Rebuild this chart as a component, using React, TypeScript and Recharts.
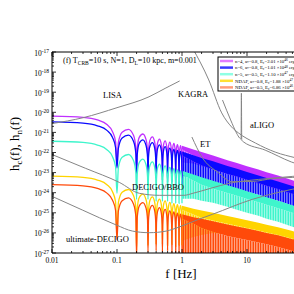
import React from "react"
import { ComposedChart, Line, Area, XAxis, YAxis } from "recharts"

const SERIF = "'Liberation Serif', 'DejaVu Serif', serif"

// frequencies (Hz) of the points read along the resolved lobes (0.01 - 1 Hz)
const lobeFreq = [
  0.01, 0.03, 0.05, 0.07, 0.085, 0.095, 0.1,
  0.105, 0.12, 0.15, 0.18, 0.195, 0.2,
  0.205, 0.22, 0.25, 0.28, 0.295, 0.3,
  0.305, 0.32, 0.35, 0.38, 0.395, 0.4,
  0.405, 0.42, 0.45, 0.48, 0.495, 0.5,
  0.505, 0.52, 0.55, 0.58, 0.595, 0.6,
  0.605, 0.62, 0.65, 0.68, 0.695, 0.7,
  0.705, 0.72, 0.75, 0.78, 0.795, 0.8,
  0.805, 0.82, 0.85, 0.88, 0.895, 0.9,
  0.905, 0.92, 0.95, 0.98, 0.995, 1.0,
]

// log10 h_c at lobeFreq
const magentaLog = [
  -20.19, -20.25, -20.38, -20.61, -20.95, -21.46, -22.48,
  -21.5, -20.99, -20.85, -21.16, -21.77, -22.78,
  -21.8, -21.25, -21.08, -21.36, -21.95, -22.88,
  -21.97, -21.41, -21.22, -21.49, -22.08, -22.98,
  -22.09, -21.53, -21.33, -21.59, -22.18, -23.08,
  -22.19, -21.62, -21.42, -21.67, -22.26, -23.18,
  -22.27, -21.7, -21.49, -21.74, -22.33, -23.18,
  -22.33, -21.77, -21.55, -21.8, -22.38, -23.28,
  -22.39, -21.82, -21.61, -21.85, -22.44, -23.28,
  -22.44, -21.87, -21.66, -21.9, -22.48, -23.28,
]
const blueLog = [
  -20.48, -20.54, -20.67, -20.9, -21.24, -21.75, -22.77,
  -21.79, -21.28, -21.14, -21.45, -22.06, -23.07,
  -22.09, -21.54, -21.37, -21.65, -22.24, -23.17,
  -22.26, -21.7, -21.51, -21.78, -22.37, -23.27,
  -22.38, -21.82, -21.62, -21.88, -22.47, -23.37,
  -22.48, -21.91, -21.71, -21.96, -22.55, -23.47,
  -22.56, -21.99, -21.78, -22.03, -22.62, -23.47,
  -22.62, -22.06, -21.84, -22.09, -22.67, -23.57,
  -22.68, -22.11, -21.9, -22.14, -22.73, -23.57,
  -22.73, -22.16, -21.95, -22.19, -22.77, -23.57,
]
const cyanLog = [
  -21.44, -21.5, -21.63, -21.86, -22.2, -22.71, -24.03,
  -22.75, -22.24, -22.1, -22.41, -23.02, -24.33,
  -23.05, -22.5, -22.33, -22.61, -23.2, -24.33,
  -23.22, -22.66, -22.47, -22.74, -23.33, -24.43,
  -23.34, -22.78, -22.58, -22.84, -23.43, -24.43,
  -23.44, -22.87, -22.67, -22.92, -23.51, -24.43,
  -23.52, -22.95, -22.74, -22.99, -23.58, -24.53,
  -23.58, -23.02, -22.8, -23.05, -23.63, -24.53,
  -23.64, -23.07, -22.86, -23.1, -23.69, -24.53,
  -23.69, -23.12, -22.91, -23.15, -23.73, -24.53,
]
const yellowLog = [
  -23.18, -23.24, -23.37, -23.6, -23.94, -24.45, -26.21,
  -24.49, -23.98, -23.84, -24.15, -24.76, -26.87,
  -24.79, -24.24, -24.07, -24.35, -24.94, -26.62,
  -24.96, -24.4, -24.21, -24.48, -25.07, -26.57,
  -25.08, -24.52, -24.32, -24.58, -25.17, -26.57,
  -25.18, -24.61, -24.41, -24.66, -25.25, -26.62,
  -25.26, -24.69, -24.48, -24.73, -25.32, -26.57,
  -25.32, -24.76, -24.54, -24.79, -25.37, -26.67,
  -25.38, -24.81, -24.6, -24.84, -25.43, -26.62,
  -25.43, -24.86, -24.65, -24.89, -25.47, -26.62,
]
const redLog = [
  -23.6, -23.66, -23.79, -24.02, -24.36, -24.87, -26.34,
  -24.91, -24.4, -24.26, -24.57, -25.18, -27.19,
  -25.21, -24.66, -24.49, -24.77, -25.36, -26.94,
  -25.38, -24.82, -24.63, -24.9, -25.49, -26.89,
  -25.5, -24.94, -24.74, -25.0, -25.59, -26.94,
  -25.6, -25.03, -24.83, -25.08, -25.67, -26.89,
  -25.68, -25.11, -24.9, -25.15, -25.74, -26.99,
  -25.74, -25.18, -24.96, -25.21, -25.79, -26.99,
  -25.8, -25.23, -25.02, -25.26, -25.85, -26.99,
  -25.85, -25.28, -25.07, -25.31, -25.89, -26.99,
]

// above 1 Hz the lobes merge into bands: top edge, solid core bottom, spiky fringe bottom (log10)
const bandFreq = [1, 1.5, 2, 3, 5, 7, 10, 15, 20, 30, 50, 100]
const magentaTop = [-21.66, -21.85, -21.98, -22.15, -22.38, -22.52, -22.68, -22.85, -22.98, -23.15, -23.38, -23.68]
const magentaCore = [-21.85, -22.15, -22.33, -22.5, -22.73, -22.87, -23.03, -23.2, -23.33, -23.5, -23.73, -24.03]
const magentaLow = [-22.5, -22.55, -22.68, -22.85, -23.08, -23.22, -23.38, -23.55, -23.68, -23.85, -24.08, -24.38]
const blueTop = [-21.95, -22.14, -22.27, -22.44, -22.67, -22.81, -22.97, -23.14, -23.27, -23.44, -23.67, -23.97]
const blueCore = [-22.15, -22.45, -22.65, -22.85, -23.07, -23.2, -23.36, -23.52, -23.65, -23.82, -24.05, -24.35]
const blueLow = [-23.2, -23.2, -23.3, -23.45, -23.65, -23.8, -23.95, -24.1, -24.25, -24.4, -24.65, -24.95]
const cyanTop = [-22.91, -23.1, -23.23, -23.4, -23.63, -23.77, -23.93, -24.1, -24.23, -24.4, -24.63, -24.93]
const cyanCore = [-23.1, -23.4, -23.6, -23.8, -24.02, -24.15, -24.31, -24.47, -24.6, -24.77, -25.0, -25.3]
const cyanLow = [-24.3, -24.3, -24.4, -24.5, -24.7, -24.85, -25.0, -25.15, -25.3, -25.45, -25.7, -26.0]
const yellowTop = [-24.65, -24.8, -24.88, -25.0, -25.16, -25.26, -25.37, -25.5, -25.6, -25.72, -25.91, -26.15]
const yellowCore = [-24.85, -25.08, -25.25, -25.38, -25.54, -25.64, -25.75, -25.88, -25.98, -26.1, -26.29, -26.53]
const yellowLow = [-26.4, -26.2, -26.1, -26.0, -26.05, -26.1, -26.2, -26.35, -26.45, -26.55, -26.75, -27.0]
const redTop = [-25.07, -25.22, -25.3, -25.42, -25.58, -25.68, -25.78, -25.91, -26.0, -26.12, -26.31, -26.55]
const redCore = [-25.3, -25.55, -25.75, -25.95, -26.15, -26.25, -26.35, -26.48, -26.57, -26.7, -26.9, -27.1]
const redLow = [-27.2, -27.2, -27.2, -27.2, -27.2, -27.3, -27.3, -27.4, -27.5, -27.6, -27.7, -27.8]

// detector sensitivity curves: [f (Hz), log10 h_n]
const lisa = [[0.01, -20.56], [0.03, -20.27], [0.1, -19.77], [0.31, -19.23], [0.55, -18.81], [0.92, -18.44]]
const kagra = [[1.45, -16.8], [2.58, -18.39], [4.08, -20.03], [5.8, -20.73], [7.41, -21.03], [13.5, -21.53], [27.2, -21.98], [57, -22.27], [100, -22.45]]
const aligo = [[4.2, -19.39], [5.6, -20.38], [6.9, -21.03], [7.7, -21.28], [8.1, -21.33], [8.2, -19.05], [8.3, -21.38], [8.9, -21.48], [19, -21.88], [48, -22.47], [100, -22.8]]
const et = [[1.42, -21.23], [2.02, -22.22], [3.67, -23.02], [5.8, -23.45], [12.1, -23.44], [24.5, -23.3], [49.6, -23.24], [100, -23.2]]
const decigo = [[0.01, -22.1], [0.033, -22.79], [0.109, -23.49], [0.221, -24.03], [0.446, -24.13], [1.07, -24.13], [1.47, -24.03], [2.77, -23.78], [5.4, -23.53], [15, -23.34], [49.6, -23.19], [100, -23.09]]
const ultDecigo = [[0.01, -24.18], [0.0297, -24.87], [0.098, -25.61], [0.173, -25.91], [0.313, -25.99], [0.57, -25.91], [0.9, -25.71], [1.82, -25.32], [2.97, -25.07], [12.1, -24.33], [49.6, -23.83], [100, -23.63]]

const xMajor = [0.01, 0.1, 1, 10, 100]
const xLabels = ["0.01", "0.1", "1", "10"]
const yExps = [-27, -26, -25, -24, -23, -22, -21, -20, -19, -18, -17]
const minorSteps = [2, 3, 4, 5, 6, 7, 8, 9]

const xTicks = [...xMajor, ...xMajor.slice(0, -1).flatMap((d) => minorSteps.map((m) => d * m))]
const yTicks = [
  ...yExps.map((e) => 10 ** e),
  ...yExps.slice(0, -1).flatMap((e) => minorSteps.map((m) => m * 10 ** e)),
]

const legendItems = [
  { color: "#e27dff", name: "n=4", a: "0.8", ec: "2.01", exp: "46" },
  { color: "#3a3aff", name: "n=6", a: "0.8", ec: "1.01", exp: "48" },
  { color: "#8fffe4", name: "n=5", a: "0.5", ec: "1.10", exp: "47" },
  { color: "#ffe033", name: "NDAF", a: "0.8", ec: "1.88", exp: "47" },
  { color: "#ff9c7a", name: "NDAF", a: "0.5", ec: "6.86", exp: "46" },
]

const lobes = (vals: number[]) => lobeFreq.map((f, i) => ({ f, h: 10 ** vals[i] }))
const curve = (pts: number[][]) => pts.map(([f, e]) => ({ f, h: 10 ** e }))
const pair = (lo: number[], hi: number[], i: number) => [10 ** lo[i], 10 ** hi[i]]
const bandData = bandFreq.map((f, i) => ({
  f,
  magentaCore: pair(magentaCore, magentaTop, i),
  magentaFringe: pair(magentaLow, magentaCore, i),
  blueCore: pair(blueCore, blueTop, i),
  blueFringe: pair(blueLow, blueCore, i),
  cyanCore: pair(cyanCore, cyanTop, i),
  cyanFringe: pair(cyanLow, cyanCore, i),
  yellowCore: pair(yellowCore, yellowTop, i),
  yellowFringe: pair(yellowLow, yellowCore, i),
  redCore: pair(redCore, redTop, i),
  redFringe: pair(redLow, redCore, i),
}))

const series = [
  { key: "magenta", color: "#c030ff", vals: magentaLog },
  { key: "blue", color: "#0a0aff", vals: blueLog },
  { key: "cyan", color: "#3ff5cc", vals: cyanLog },
  { key: "yellow", color: "#ffd400", vals: yellowLog },
  { key: "red", color: "#ff4a0a", vals: redLog },
]
const detectors = [lisa, kagra, aligo, et, decigo, ultDecigo]

const isMajor = (v: number) => Math.abs(Math.log10(v) - Math.round(Math.log10(v))) < 1e-6

const XTick = ({ x, y, payload, side }: any) => {
  const v = payload.value
  const major = isMajor(v)
  const len = major ? 4 : 2
  const dir = side === "bottom" ? -1 : 1
  const idx = xMajor.findIndex((m) => Math.abs(m - v) < 1e-9)
  return (
    <g>
      <line x1={x} x2={x} y1={y} y2={y + dir * len} stroke="#000" strokeWidth={0.8} />
      {side === "bottom" && xLabels[idx] && (
        <text x={x} y={y + 10} textAnchor="middle" fontSize={7.5} fontFamily={SERIF} fill="#000">
          {xLabels[idx]}
        </text>
      )}
    </g>
  )
}

const YTick = ({ x, y, payload, side }: any) => {
  const v = payload.value
  const major = isMajor(v)
  const len = major ? 4 : 2
  const dir = side === "left" ? 1 : -1
  return (
    <g>
      <line x1={x} x2={x + dir * len} y1={y} y2={y} stroke="#000" strokeWidth={0.8} />
      {side === "left" && major && (
        <text x={x - 3} y={y + 3.5} textAnchor="end" fontSize={7.5} fontFamily={SERIF} fill="#000">
          10<tspan dy={-3} fontSize={5.5}>{Math.round(Math.log10(v))}</tspan>
        </text>
      )}
    </g>
  )
}

const Overlay = () => (
  <svg width={294} height={294} style={{ position: "absolute", left: 0, top: 0, pointerEvents: "none" }} fontFamily={SERIF}>
    <text x={63} y={63} fontSize={8}>
      (f) T<tspan dy={2} fontSize={5.5}>CRB</tspan>
      <tspan dy={-2}>=10 s, N=1, D</tspan>
      <tspan dy={2} fontSize={5.5}>L</tspan>
      <tspan dy={-2}>=10 kpc, m=0.001</tspan>
    </text>
    <text x={103} y={98} fontSize={8.5}>LISA</text>
    <text x={178} y={97} fontSize={8.5}>KAGRA</text>
    <text x={250} y={128} fontSize={8.5}>aLIGO</text>
    <text x={200} y={147} fontSize={8.5}>ET</text>
    <text x={132} y={190} fontSize={8.5}>DECIGO/BBO</text>
    <text x={66} y={242} fontSize={8.5}>ultimate-DECIGO</text>
    <text x={181} y={278} fontSize={13} textAnchor="middle">f [Hz]</text>
    <text transform="translate(19,144) rotate(-90)" fontSize={13} textAnchor="middle">
      h<tspan dy={3} fontSize={9}>c</tspan>
      <tspan dy={-3}>(f), h</tspan>
      <tspan dy={3} fontSize={9}>n</tspan>
      <tspan dy={-3}>(f)</tspan>
    </text>
    <rect x={218} y={57} width={100} height={34} fill="#fff" stroke="#000" strokeWidth={1} />
    {legendItems.map((it, i) => {
      const cy = 61 + i * 6.6
      return (
        <g key={i}>
          <line x1={220} x2={233} y1={cy} y2={cy} stroke={it.color} strokeWidth={2.5} />
          <text x={235} y={cy + 1.8} fontSize={4.8}>
            {it.name}, a<tspan dy={1} fontSize={3.5}>*</tspan>
            <tspan dy={-1}>={it.a}, E</tspan>
            <tspan dy={1} fontSize={3.5}>c</tspan>
            <tspan dy={-1}>={it.ec} ×10</tspan>
            <tspan dy={-1.8} fontSize={3.5}>{it.exp}</tspan>
            <tspan dy={1.8}> erg</tspan>
          </text>
        </g>
      )
    })}
  </svg>
)

const axisLine = { stroke: "#000", strokeWidth: 1 }

export default function App() {
  return (
    <div style={{ position: "absolute", left: 0, top: 0, width: 294, height: 294, overflow: "hidden", background: "#fff" }}>
      <ComposedChart
        width={340}
        height={294}
        data={bandData}
        margin={{ top: 51, right: 27, bottom: 40, left: 51 }}
      >
        <defs>
          {series.map((s) => (
            <pattern key={s.key} id={"spikes-" + s.key} patternUnits="userSpaceOnUse" width={5} height={4}>
              <rect x={0} y={0} width={1.6} height={4} fill={s.color} />
              <rect x={2.3} y={0} width={2.2} height={4} fill={s.color} />
            </pattern>
          ))}
        </defs>
        <XAxis
          xAxisId="b"
          dataKey="f"
          type="number"
          scale="log"
          domain={[0.01, 100]}
          allowDataOverflow
          ticks={xTicks}
          interval={0}
          orientation="bottom"
          height={1}
          tickSize={0}
          tickMargin={0}
          tickLine={false}
          axisLine={axisLine}
          tick={(p: any) => <XTick {...p} side="bottom" />}
        />
        <XAxis
          xAxisId="t"
          dataKey="f"
          type="number"
          scale="log"
          domain={[0.01, 100]}
          allowDataOverflow
          ticks={xTicks}
          interval={0}
          orientation="top"
          height={1}
          tickSize={0}
          tickMargin={0}
          tickLine={false}
          axisLine={axisLine}
          tick={(p: any) => <XTick {...p} side="top" />}
        />
        <YAxis
          yAxisId="l"
          type="number"
          scale="log"
          domain={[1e-27, 1e-17]}
          allowDataOverflow
          ticks={yTicks}
          interval={0}
          orientation="left"
          width={1}
          tickSize={0}
          tickMargin={0}
          tickLine={false}
          axisLine={axisLine}
          tick={(p: any) => <YTick {...p} side="left" />}
        />
        <YAxis
          yAxisId="r"
          type="number"
          scale="log"
          domain={[1e-27, 1e-17]}
          allowDataOverflow
          ticks={yTicks}
          interval={0}
          orientation="right"
          width={1}
          tickSize={0}
          tickMargin={0}
          tickLine={false}
          axisLine={axisLine}
          tick={(p: any) => <YTick {...p} side="right" />}
        />
        {series.flatMap((s) => [
          <Area
            key={s.key + "-fringe"}
            xAxisId="b"
            yAxisId="l"
            dataKey={s.key + "Fringe"}
            type="linear"
            stroke="none"
            fill={`url(#spikes-${s.key})`}
            fillOpacity={1}
            isAnimationActive={false}
          />,
          <Area
            key={s.key + "-core"}
            xAxisId="b"
            yAxisId="l"
            dataKey={s.key + "Core"}
            type="linear"
            stroke="none"
            fill={s.color}
            fillOpacity={1}
            isAnimationActive={false}
          />,
        ])}
        {series.map((s) => (
          <Line
            key={s.key}
            xAxisId="b"
            yAxisId="l"
            data={lobes(s.vals)}
            dataKey="h"
            type="monotone"
            stroke={s.color}
            strokeWidth={1.3}
            dot={false}
            isAnimationActive={false}
          />
        ))}
        {detectors.map((d, i) => (
          <Line
            key={"det" + i}
            xAxisId="b"
            yAxisId="l"
            data={curve(d)}
            dataKey="h"
            type="monotone"
            stroke="#858585"
            strokeWidth={1}
            dot={false}
            isAnimationActive={false}
          />
        ))}
      </ComposedChart>
      <Overlay />
    </div>
  )
}
